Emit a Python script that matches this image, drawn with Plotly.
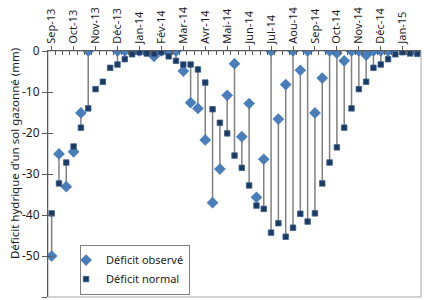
import plotly.graph_objects as go

# Month tick labels (3 décades per month)
month_labels = ["Sep-13", "Oct-13", "Nov-13", "Déc-13", "Jan-14", "Fév-14", "Mar-14",
                "Avr-14", "Mai-14", "Jun-14", "Jul-14", "Aou-14", "Sep-14", "Oct-14",
                "Nov-14", "Déc-14", "Jan-15"]
decades_per_month = 3

# Y tick values / labels
y_ticks = [0, -10, -20, -30, -40, -50, -60]
y_ticklabels = ["0", "-10", "-20", "-30", "-40", "-50", "-60"]

# Observed deficit (mm), None where not measured
deficit_observe = [-50.0, -25.1, -33.1, -24.6, -15.1, 0.0, None, None, None,
                   0.0, 0.0, 0.0, 0.0, 0.0, -1.3, 0.0, 0.0, 0.0,
                   -4.9, -12.6, -14.0, -21.7, -37.0, -28.8, -10.8, -3.1, -20.9,
                   -12.8, -35.7, -26.4, 0.0, -16.6, -8.2, 0.0, -4.7, 0.0,
                   -15.1, -6.6, 0.0, -0.5, -2.4, 0.0, 0.0, -1.0, 0.0,
                   0.0, 0.0, None, None, None, None]

# Normal deficit (mm)
deficit_normal = [-39.6, -32.3, -27.2, -23.3, -18.7, -14.0, -9.3, -7.5, -4.1,
                  -3.3, -2.0, -0.8, -0.3, -0.6, -0.7, -0.3, -1.3, -2.4,
                  -3.3, -3.3, -4.5, -7.7, -14.2, -17.5, -20.1, -25.5, -28.5,
                  -32.8, -37.7, -38.5, -44.3, -42.0, -45.3, -43.1, -39.7, -41.6,
                  -39.6, -32.3, -27.2, -23.5, -18.7, -14.0, -9.3, -7.5, -4.1,
                  -3.3, -2.0, -0.8, -0.3, -0.6, -0.7]

n = len(deficit_normal)
xs = list(range(n))
month_pos = [decades_per_month * k for k in range(len(month_labels))]
boundaries = [i - 0.5 for i in range(n + 1)]

FONT = "Noto Sans"
TXT = "#1a1a1a"
AX = "#5a5a5a"

# high-low style drop lines
lx, ly = [], []
for i, (o, m) in enumerate(zip(deficit_observe, deficit_normal)):
    if o is None:
        continue
    lx += [i, i, None]
    ly += [o, m, None]

fig = go.Figure()
fig.add_trace(go.Scatter(x=lx, y=ly, mode="lines", line=dict(color="#808080", width=1.5),
                         showlegend=False, hoverinfo="skip"))
fig.add_trace(go.Scatter(x=xs, y=deficit_observe, mode="markers", name="Déficit observé",
                         marker=dict(symbol="diamond", size=9, color="#4A7EBB",
                                     line=dict(width=0))))
fig.add_trace(go.Scatter(x=xs, y=deficit_normal, mode="markers", name="Déficit normal",
                         marker=dict(symbol="square", size=5.5, color="#1B3A63",
                                     line=dict(color="#3B5E8C", width=0.8))))
# invisible traces to carry the overlay axes (cross tick marks)
fig.add_trace(go.Scatter(x=[0], y=[0], xaxis="x2", yaxis="y", mode="markers",
                         marker=dict(opacity=0), showlegend=False, hoverinfo="skip"))
fig.add_trace(go.Scatter(x=[0], y=[0], xaxis="x", yaxis="y2", mode="markers",
                         marker=dict(opacity=0), showlegend=False, hoverinfo="skip"))

xr = [-0.5, n - 0.5]
yr = [-60, 0]

fig.update_layout(
    width=424, height=300,
    margin=dict(l=48, r=3, t=51, b=3),
    paper_bgcolor="white", plot_bgcolor="white",
    font=dict(family=FONT, size=11, color=TXT),
    xaxis=dict(range=xr, side="top", anchor="y", tickmode="array", tickvals=month_pos,
               ticktext=month_labels, tickangle=-90, ticks="outside", ticklen=4,
               tickcolor=AX, showline=True, linecolor=AX, linewidth=1,
               showgrid=False, zeroline=False, tickfont=dict(size=11, color=TXT)),
    xaxis2=dict(range=xr, overlaying="x", side="top", anchor="y", tickmode="array",
                tickvals=boundaries, ticks="inside", ticklen=4, tickcolor=AX,
                showticklabels=False, showline=False, showgrid=False, zeroline=False),
    yaxis=dict(range=yr, tickmode="array", tickvals=y_ticks, ticktext=y_ticklabels,
               ticks="outside", ticklen=5, tickcolor=AX, showline=True, linecolor=AX,
               linewidth=1, showgrid=False, zeroline=False,
               tickfont=dict(size=12, color=TXT)),
    yaxis2=dict(range=yr, overlaying="y", side="left", anchor="x", tickmode="array",
                tickvals=y_ticks, ticks="inside", ticklen=5,
                tickcolor=AX, showticklabels=False, showline=False, showgrid=False,
                zeroline=False),
    legend=dict(x=0.086, y=0.213, xanchor="left", yanchor="top",
                bordercolor="#7f7f7f", borderwidth=1, bgcolor="white",
                font=dict(size=11, color=TXT), itemwidth=30, indentation=-15,
                tracegroupgap=0),
    shapes=[dict(type="rect", xref="paper", yref="paper", x0=0, x1=1, y0=0, y1=1,
                 line=dict(color="#a6a6a6", width=1), layer="below")],
    annotations=[dict(text="Déficit hydrique d’un sol gazonné (mm)", textangle=-90,
                      xref="paper", yref="paper", x=-0.0912, y=0.585,
                      xanchor="center", yanchor="middle", showarrow=False,
                      font=dict(size=11.5, color=TXT))],
)

fig.write_html("out.html")
